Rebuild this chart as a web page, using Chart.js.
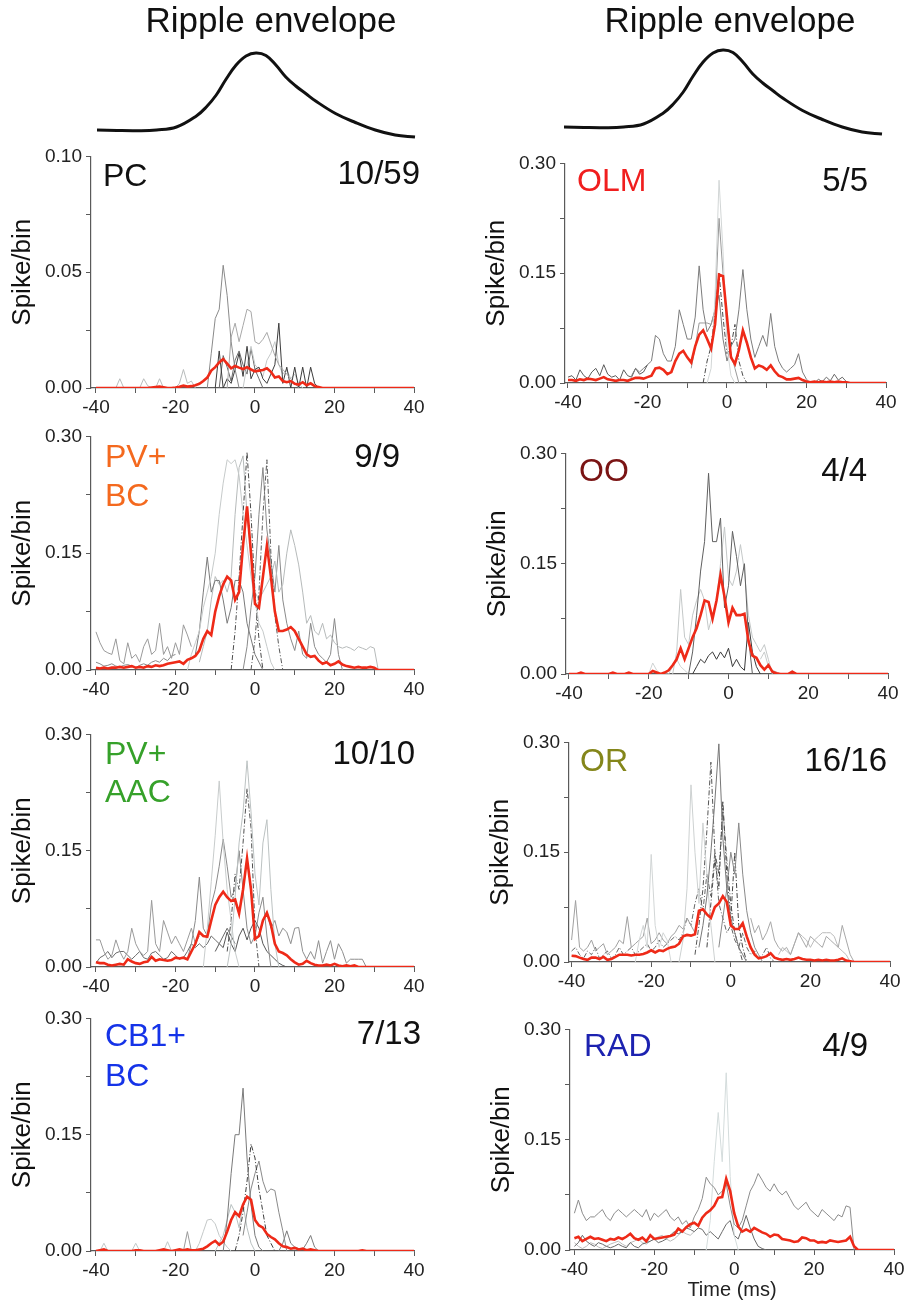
<!DOCTYPE html>
<html>
<head>
<meta charset="utf-8">
<script src="https://cdn.jsdelivr.net/npm/chart.js@4.4.0/dist/chart.umd.min.js"></script>
<style>
  body { margin: 0; background: #fff; width: 904px; height: 1301px; position: relative; overflow: hidden; }
  canvas { position: absolute; }
</style>
</head>
<body>
<script>
// time bins (ms), 1 ms bins
var timeMs = [-40,-39,-38,-37,-36,-35,-34,-33,-32,-31,-30,-29,-28,-27,-26,-25,-24,-23,-22,-21,
  -20,-19,-18,-17,-16,-15,-14,-13,-12,-11,-10,-9,-8,-7,-6,-5,-4,-3,-2,-1,0,
  1,2,3,4,5,6,7,8,9,10,11,12,13,14,15,16,17,18,19,20,21,22,23,24,25,26,27,28,29,30,
  31,32,33,34,35,36,37,38,39,40];

var xTickValues = [-40, -30, -20, -10, 0, 10, 20, 30, 40];
var xTickLabelled = [-40, -20, 0, 20, 40];

// ripple envelope (arbitrary units)
var envTime = [-40,-35,-30,-25,-20,-15,-12.5,-10,-7.5,-5,-2.5,0,2.5,5,7.5,10,12.5,15,20,25,30,35,40];
var envAmp = [10,9.5,9.3,10,13,24,33,45,61,75,84,87,84.5,75,63,54,46.5,39,26.5,17.5,10,5,3];

// ---- PC ----
var pcMean = [0,0,0,0,0,0,0,0,0,0,
  0,0,0,0,0.0002,0.0004,0.0006,0.0003,0,0,
  0.0002,0.0005,0.001,0.0006,0.0008,0.0012,0.0018,0.003,0.0045,0.0075,
  0.009,0.011,0.0125,0.0105,0.0085,0.0095,0.0088,0.0082,0.009,0.008,
  0.0072,
  0.0075,0.0078,0.0085,0.007,0.0045,0.005,0.003,0.0025,0.003,0.0018,
  0.0015,0.0025,0.0012,0.002,0.0008,0.0004,0,0,0,0,
  0,0,0,0,0,0,0,0,0,0,
  0,0,0,0,0,0,0,0,0,0];
var pcStarts = [-12, -7, -10, -35, -3, -9];
var pcTraces = [
  [0,0.015,0.03,0.034,0.053,0.04,0.02,0.008,0],
  [0,0.022,0.028,0.02,0.027,0.034,0.033,0.02,0.019,0.021,0.024,0.019,0.014,0.01,0.008,0.006,0.004,0.002,0],
  [0,0.016,0,0.004,0.002,0.008,0.015,0.005,0.018,0.004,0.008,0.009,0.004,0.002,0.006,0.01,0.028,0.002,0.009,0,0.009,0,0.009,0,0.009,0.002,0],
  [0,0.004,0,0,0,0,0,0.004,0.001,0,0,0.004,0,0,0,0,0.002,0.008,0.002,0.003,0],
  [0,0.01,0.018,0.01,0.008,0.005,0.012,0.015,0.02,0.01,0.006,0.008,0.004,0.006,0.002,0],
  [0,0.014,0.009,0.003,0.012,0.016,0.01,0.006,0.017,0.008,0.004,0]
];

// ---- PV+ BC ----
var pvbcMean = [0.003,0.002,0.003,0.002,0.003,0.003,0.004,0.003,0.004,0.005,
  0.003,0.004,0.003,0.005,0.004,0.006,0.005,0.006,0.008,0.009,
  0.01,0.011,0.008,0.013,0.015,0.018,0.025,0.04,0.05,0.045,
  0.075,0.095,0.11,0.12,0.115,0.09,0.1,0.16,0.21,0.15,
  0.085,
  0.08,0.12,0.16,0.12,0.075,0.05,0.05,0.052,0.055,0.05,
  0.04,0.03,0.02,0.017,0.018,0.012,0.008,0.01,0.006,0.008,
  0.011,0.007,0.005,0.004,0.003,0.004,0.003,0.003,0.004,0.003,
  0,0,0,0,0,0,0,0,0,0];
var pvbcStarts = [-17, -6, -1, -40, -15, -14, -3, -40];
var pvbcTraces = [
  [0,0.02,0.035,0.05,0.08,0.1,0.12,0.15,0.2,0.24,0.27,0.265,0.27,0.25,0.2,0.16,0.12,0.09,0.06,0.05,0.03,0.01,0],
  [0,0.05,0.12,0.2,0.28,0.2,0.1,0.04,0],
  [0,0.04,0.1,0.2,0.27,0.15,0.07,0.03,0],
  [0.049,0.035,0.025,0.022,0.02,0.04,0.012,0.008,0.035,0.015,0.02,0.01,0.03,0.04,0.02,0.025,0.06,0.02,0.03,0.015,0.035,0.02,0.058,0.045,0.03],
  [0.02,0.05,0.1,0.145,0.1,0.115,0.115,0.09,0.06,0.08,0.115,0.115,0.1,0.06,0.04,0.02,0.01,0],
  [0.01,0.03,0.05,0.09,0.12,0.11,0.115,0.1,0.12,0.2,0.26,0.275,0.2,0.15,0.1,0.09,0.1,0.11,
   0.12,0.14,0.1,0.11,0.15,0.18,0.16,0.135,0.1,0.06,0.07,0.05,0.045,0.06,0.04,0.045,0.035,0.03,0.028,0.03,0.028,0.025,0.03,0.028,0.026,0.03,0.028,0],
  [0,0.03,0.08,0.12,0.2,0.26,0.18,0.14,0.1,0.16,0.09,0.06,0.04,0.025,0.05,0.02,0.015,0.06,0.03,0.02,0.015,0.01,0.02,0.066,0.02,0],
  [0.01,0.008,0.005,0.006,0.008,0.005,0.004,0.006,0.007,0.005,0.003,0.006,0.008,0.006,0.01,0.012,0.01,0.015,0.012,0.018,0.02]
];

// ---- PV+ AAC ----
var aacMean = [0.006,0.005,0.005,0.003,0.002,0.003,0.004,0.003,0.01,0.007,
  0.005,0.004,0.006,0.007,0.013,0.008,0.01,0.009,0.008,0.009,
  0.012,0.011,0.012,0.01,0.02,0.03,0.045,0.04,0.039,0.06,
  0.08,0.09,0.097,0.09,0.085,0.087,0.069,0.1,0.14,0.1,
  0.036,
  0.04,0.06,0.07,0.055,0.03,0.02,0.018,0.015,0.01,0.006,
  0.003,0.004,0.008,0.005,0.003,0.002,0.002,0.003,0.002,0.004,
  0.002,0.001,0.002,0.001,0.002,0,0,0,0,0,
  0,0,0,0,0,0,0,0,0,0];
var aacStarts = [-13, -7, -7, -17, -40, -40, 3, -10];
var aacTraces = [
  [0,0.05,0.11,0.17,0.24,0.16,0.1,0.06,0.02,0],
  [0,0.03,0.09,0.16,0.2,0.266,0.2,0.12,0.08,0.16,0.19,0.1,0.03,0],
  [0.02,0.06,0.12,0.1,0.16,0.23,0.18,0.05,0],
  [0.01,0.03,0.06,0.116,0.05,0.04,0.08,0.1,0.13,0.165,0.13,0.09,0.1,0.15,0.1,0.05,0.03,0.04,0.07,0.09,0.04,0],
  [0.035,0.035,0.02,0.01,0.015,0.035,0.02,0.01,0.02,0.05,0.03,0.02,0.015,0.02,0.086,0.03,0.02,0.06,0.045,0.03,0.04,0.03,0.02,0.035,0.05,0.03,0.04],
  [0.005,0.012,0.015,0.02,0.012,0.018,0.02,0.02,0.015,0.01,0.015,0.02,0.012,0.01,0.018,0.02,0.015,0.01,0.012,0.02,
   0.015,0.01,0.012,0.02,0.03,0.025,0.03,0.025,0.03,0.04,0.035,0.03,0.04,0.05,0.04,0.03],
  [0.07,0.05,0.06,0.04,0.05,0.045,0.03,0.05,0.051,0.02,0.01,0.02,0.01,0.034,0.005,0.02,0.034,0.01,0.03,0.02,0.005,0.01,0.01,0.01,0.01,0],
  [0.02,0.03,0.025,0.045,0.03,0.02,0.04,0.05,0.035,0.05,0.06,0.05,0.03,0.02,0.015,0.01,0.005,0.002,0]
];

// ---- CB1+ BC ----
var cb1Mean = [0,0.001,0.002,0,0,0,0,0,0,0,
  0.001,0.001,0,0,0,0,0.001,0.002,0.001,0,
  0.001,0.002,0.001,0.002,0.001,0.001,0.002,0.003,0.006,0.01,
  0.013,0.008,0.012,0.025,0.04,0.05,0.045,0.06,0.07,0.066,
  0.04,
  0.033,0.03,0.022,0.018,0.015,0.01,0.006,0.005,0.003,0.004,
  0.002,0.003,0.001,0.002,0.001,0,0,0,0,0,
  0,0,0,0,0,0,0.001,0,0,0,
  0,0,0,0,0,0,0,0,0,0];
var cb1Starts = [-8, -5, -3, -15, -18, 6, -10, -39];
var cb1Traces = [
  [0,0.04,0.1,0.15,0.15,0.21,0.12,0.06,0.02,0.005,0],
  [0,0.02,0.05,0.09,0.138,0.12,0.08,0.05,0.02,0.01,0],
  [0.02,0.05,0.08,0.1,0.116,0.09,0.075,0.08,0.078,0.05,0.026,0],
  [0,0.01,0.025,0.04,0.041,0.035,0.02,0.012,0.005,0],
  [0,0.025,0],
  [0,0.01,0.026,0.01,0.005,0.003,0.002,0.01,0.02,0.005,0],
  [0,0.01,0.02,0.04,0.06,0.05,0.03,0.06,0.03,0.01,0],
  [0,0.01,0,0,0,0,0,0,0,0.01,0,0,0,0,0,0,0,0.012,0]
];

// ---- OLM ----
var olmMean = [0.004,0.004,0.003,0.005,0.004,0.006,0.005,0.004,0.006,0.008,
  0.005,0.004,0.003,0.004,0.004,0.003,0.005,0.007,0.007,0.006,
  0.008,0.01,0.02,0.021,0.018,0.012,0.015,0.03,0.04,0.044,
  0.035,0.028,0.05,0.066,0.072,0.06,0.047,0.08,0.148,0.146,
  0.09,
  0.035,0.026,0.045,0.072,0.055,0.035,0.02,0.024,0.022,0.018,
  0.024,0.016,0.01,0.008,0.005,0.005,0.006,0.007,0.004,0.002,
  0.001,0.002,0.001,0.002,0.001,0.002,0.001,0.002,0.001,0.001,
  0,0,0,0,0,0,0,0,0,0];
var olmStarts = [-5, -9, -24, -40, 22, -6];
var olmTraces = [
  [0,0.02,0.12,0.277,0.18,0.05,0.01,0],
  [0.02,0.05,0.082,0.082,0.082,0.08,0.1,0.225,0.15,0.08,0.04,0.02,0],
  [0.01,0.02,0.015,0.02,0.025,0.03,0.065,0.06,0.04,0.03,
   0.03,0.05,0.1,0.08,0.06,0.06,0.09,0.16,0.1,0.07,
   0.08,0.1,0.12,0.06,0.03,0.05,0.06,0.1,0.155,0.1,
   0.06,0.035,0.05,0.065,0.05,0.095,0.05,0.03,0.02,0.015,
   0.02,0.025,0.04,0.015,0.005,0],
  [0.008,0.01,0.004,0.018,0.01,0.006,0.015,0.02,0.01,0.025,0.012,0.008,0.01,0.004,0.018,0.01,0.008,0.02,0.012,0.015,0.025],
  [0,0.005,0.002,0.008,0.003,0.012,0.004,0.008,0.002,0],
  [0,0.03,0.05,0.1,0.15,0.09,0.04,0.05,0.08,0.03,0.01,0]
];

// ---- OO ----
var ooMean = [0,0,0,0.002,0,0,0,0,0,0,
  0,0.002,0,0,0,0.002,0,0,0,0,
  0,0.004,0.002,0,0.002,0.005,0.012,0.02,0.035,0.02,
  0.035,0.05,0.062,0.08,0.1,0.098,0.075,0.1,0.135,0.105,
  0.07,
  0.09,0.08,0.08,0.082,0.045,0.025,0.022,0.012,0.006,0.012,
  0.003,0.001,0,0,0,0.003,0,0,0,0,
  0,0,0,0,0,0,0,0,0,0,
  0,0,0,0,0,0,0,0,0,0];
var ooStarts = [-10, -14, -9, -20, 8];
var ooTraces = [
  [0,0.03,0.08,0.14,0.18,0.273,0.18,0.18,0.212,0.09,0.12,0.194,0.16,0.12,0.15,0.05,0],
  [0,0.03,0.115,0.05,0.04,0.08,0.1,0.115,0.1,0.06,0.08,0.1,0.15,0.2,0.13,0.12,0.14,0.176,0.14,0.08,0.05,0.04,0.03,0.04,0.02,0],
  [0,0.01,0.02,0.015,0.025,0.03,0.02,0.03,0.022,0.035,0.01,0.02,0.01,0.005,0.07,0.03,0.01,0],
  [0,0.015,0.005,0,0,0,0.01,0.02,0.01,0.005,0],
  [0.02,0.03,0.01,0.005,0.003,0,0,0,0.005,0]
];

// ---- OR ----
var orMean = [0.0086,0.008,0.006,0.004,0.003,0.006,0.006,0.004,0.007,0.003,
  0.004,0.007,0.01,0.01,0.01,0.009,0.01,0.01,0.011,0.013,
  0.016,0.013,0.016,0.015,0.018,0.02,0.021,0.025,0.035,0.037,
  0.036,0.038,0.07,0.072,0.065,0.06,0.075,0.08,0.09,0.082,
  0.05,
  0.045,0.045,0.053,0.035,0.02,0.01,0.005,0.006,0.008,0.012,
  0.006,0.004,0.003,0.004,0.003,0.004,0.006,0.004,0.003,0.003,
  0.002,0.003,0.002,0.003,0.002,0.002,0.003,0.005,0.002,0.001,
  0,0,0,0,0,0,0,0,0,0];
var orStarts = [-8, -13, -9, -3, -24, -40, -40, 5, 12, -6];
var orTraces = [
  [0.02,0.05,0.09,0.15,0.22,0.298,0.17,0.1,0.06,0.04,0.02,0.01,0],
  [0,0.03,0.1,0.242,0.15,0.08,0.19,0.12,0.05,0],
  [0.01,0.05,0.1,0.18,0.273,0.15,0.12,0.21,0.14,0.08,0.04,0.02,0],
  [0.02,0.06,0.1,0.15,0.12,0.19,0.12,0.07,0.04,0.02,0.01,0],
  [0,0.03,0.05,0.02,0.147,0.05,0.02,0.04,0.03,0],
  [0.03,0.084,0.02,0.015,0.02,0.03,0.015,0.02,0.025,0.01,0.015,0.02,0.03,0.025,0.062,0.02,
   0.025,0.03,0.035,0.06,0.025,0.03,0.04,0.03,0.025,0.035,0.04,0.05,0.045,0.06,0.05,0.04],
  [0.015,0.02,0.01,0.005,0.015,0.01,0.02,0.005,0.01,0.015,
   0.005,0.01,0.02,0.01,0.015,0.02,0.01,0.015,0.02,0.025,
   0.015,0.02,0.03,0.02,0.025,0.03,0.035,0.03,0.04,0.06,
   0.05,0.08,0.1,0.07,0.12,0.09,0.15,0.08,0.06,0.04,
   0.05,0.03,0.02,0.04,0.02,0.01,0.015,0.005,0.01,0.02,
   0.005,0,0],
  [0.06,0.04,0.05,0.03,0.04,0.055,0.03,0.02,0.015,0.02,0.01,0.025,0.04,0.03,0.02,0.035,0.03,0.025,0.02,0.035,0.03,0.025,0.02,0.05,0.03,0.01,0],
  [0.01,0.02,0.015,0.01,0.025,0.04,0.035,0.03,0.02,0.03,0.035,0.04,0.04,0.04,0.035,0.02,0.015,0.01,0],
  [0.02,0.08,0.14,0.1,0.22,0.12,0.06,0.15,0.05,0.02,0]
];

// ---- RAD ----
var radMean = [0.016,0.018,0.012,0.015,0.018,0.015,0.016,0.014,0.012,0.015,
  0.014,0.017,0.015,0.018,0.022,0.016,0.014,0.017,0.012,0.02,
  0.015,0.016,0.017,0.018,0.019,0.021,0.029,0.025,0.031,0.035,
  0.037,0.033,0.044,0.05,0.054,0.06,0.071,0.072,0.097,0.08,
  0.05,
  0.032,0.025,0.028,0.025,0.03,0.027,0.024,0.022,0.018,0.021,
  0.02,0.015,0.014,0.013,0.011,0.012,0.017,0.016,0.013,0.013,
  0.01,0.011,0.01,0.013,0.012,0.011,0.012,0.013,0.018,0.005,
  0,0,0,0,0,0,0,0,0,0];
var radStarts = [-40, -7, -40, -40];
var radTraces = [
  [0.05,0.068,0.05,0.04,0.045,0.045,0.05,0.055,0.045,0.04,
   0.05,0.055,0.05,0.045,0.05,0.055,0.05,0.045,0.055,0.04,
   0.05,0.045,0.05,0.055,0.045,0.04,0.045,0.035,0.04,0.03,
   0.045,0.055,0.07,0.099,0.09,0.085,0.075,0.08,
   0.09,0.06,0.035,0.03,0.04,0.06,0.08,0.09,0.104,0.095,
   0.085,0.08,0.09,0.08,0.075,0.08,0.07,0.06,0.055,0.06,
   0.065,0.055,0.05,0.045,0.055,0.05,0.045,0.04,0.048,0.045,
   0.06,0.058,0],
  [0,0.04,0.12,0.187,0.12,0.241,0.1,0.02,0],
  [0.005,0.01,0.02,0.012,0.008,0.005,0.01,0.008,0.005,0.003,
   0.005,0.008,0.005,0.003,0.01,0.005,0.003,0.008,0.01,0.012,
   0.015,0.01,0.012,0.015,0.02,0.025,0.022,0.025,0.03,0.028,
   0.025,0.03,0.028,0.02,0.025,0.02,0.015,0.025,0.035,0.04,
   0.02,0.015,0.03,0.047,0.03,0.015,0.005,0.002,0],
  [0.01,0.005,0.002,0.005,0.01,0.008,0.004,0.002,0.005,0.008,0.01,0.012,0.008,0.005,0.01,0.012,
   0.015,0.01,0.008,0.012,0.015,0.018,0.02,0.015,0.012,0.015,0.02,0.025,0.022,0.02,0.025]
];

// ---------- drawing ----------
Chart.defaults.font.family = '"Liberation Sans", Arial, Helvetica, sans-serif';
Chart.defaults.color = '#222';

var MEAN_RED = '#ee2a18';
var AXIS_GREY = '#5a5a5a';
var FONT = '"Liberation Sans", Arial, Helvetica, sans-serif';

// free text (labels, counts, titles) placed in page coordinates
var pageText = {
  id: 'pageText',
  afterDraw: function(chart, args, opts) {
    var ctx = chart.ctx;
    (opts.items || []).forEach(function(it) {
      ctx.save();
      ctx.font = it.size + 'px ' + FONT;
      ctx.fillStyle = it.color;
      ctx.textAlign = it.align || 'left';
      ctx.textBaseline = 'middle';
      ctx.fillText(it.text, it.x - opts.ox, it.y - opts.oy);
      ctx.restore();
    });
  }
};

function makeCanvas(left, top, width, height) {
  var c = document.createElement('canvas');
  c.width = width;
  c.height = height;
  c.style.left = left + 'px';
  c.style.top = top + 'px';
  document.body.appendChild(c);
  return c;
}

function drawEnvelope(e) {
  var canvas = makeCanvas(e.box[0], e.box[1], e.box[2], e.box[3]);
  new Chart(canvas, {
    type: 'line',
    data: {
      datasets: [{
        data: envTime.map(function(t, i) { return { x: t, y: envAmp[i] }; }),
        borderColor: '#111',
        borderWidth: 3,
        pointRadius: 0,
        tension: 0.4,
        clip: false
      }]
    },
    options: {
      responsive: false,
      animation: false,
      layout: { padding: e.pad },
      scales: {
        x: { type: 'linear', min: -40, max: 40, display: false },
        y: { min: 0, max: 90, display: false }
      },
      plugins: {
        legend: { display: false },
        tooltip: { enabled: false },
        pageText: {
          ox: e.box[0], oy: e.box[1],
          items: [{ text: 'Ripple envelope', x: e.titleX, y: 22, size: 35, color: '#111', align: 'center' }]
        }
      }
    },
    plugins: [pageText]
  });
}

function drawPanel(p) {
  var YW = 91, PT = 14, PR = 18;
  var XH = p.xTitle ? 54 : 40;
  var a = p.area; // [left, right, top, bottom] of the plot area on the page
  var left = a[0] - YW, top = a[2] - PT;
  var width = a[1] + PR - left, height = a[3] - a[2] + PT + XH;
  var canvas = makeCanvas(left, top, width, height);

  var datasets = [{
    data: p.mean.map(function(v, i) { return { x: timeMs[i], y: v }; }),
    borderColor: MEAN_RED,
    borderWidth: 2.6,
    order: 0
  }];
  p.traces.forEach(function(tr, k) {
    datasets.push({
      data: tr.map(function(v, i) { return { x: p.starts[k] + i, y: v }; }),
      borderColor: p.shades[k],
      borderWidth: 1,
      borderDash: (p.dashed || []).indexOf(k) >= 0 ? [5, 2, 1, 2] : [],
      order: k + 1
    });
  });

  var yTicks = p.yMax === 0.1 ? [0, 0.025, 0.05, 0.075, 0.1] : [0, 0.075, 0.15, 0.225, 0.3];
  var yLabelled = p.yMax === 0.1 ? [0, 0.05, 0.1] : [0, 0.15, 0.3];

  var items = [];
  p.name.forEach(function(line, i) {
    items.push({ text: line, x: p.nameX, y: p.nameY[i], size: 32, color: p.color });
  });
  items.push({ text: p.count, x: p.countX, y: p.countY, size: 33, color: '#111', align: 'right' });

  new Chart(canvas, {
    type: 'line',
    data: { datasets: datasets },
    options: {
      responsive: false,
      animation: false,
      layout: { padding: { top: PT, right: PR, left: 0, bottom: 0 } },
      elements: { point: { radius: 0 }, line: { tension: 0 } },
      scales: {
        x: {
          type: 'linear', min: p.xMin, max: 40,
          afterBuildTicks: function(s) { s.ticks = xTickValues.map(function(v) { return { value: v }; }); },
          afterFit: function(s) { s.height = XH; },
          grid: { drawOnChartArea: false, drawTicks: true, tickLength: 5, color: AXIS_GREY },
          border: { display: true, color: AXIS_GREY, width: 1.2 },
          ticks: {
            autoSkip: false, maxRotation: 0, padding: 3, color: '#222', font: { size: 19 },
            callback: function(v) { return xTickLabelled.indexOf(v) >= 0 ? String(v) : ''; }
          },
          title: {
            display: !!p.xTitle, text: 'Time (ms)', color: '#222',
            font: { size: 20 }, padding: { top: 0, bottom: 2 }
          }
        },
        y: {
          min: 0, max: p.yMax,
          afterBuildTicks: function(s) { s.ticks = yTicks.map(function(v) { return { value: v }; }); },
          afterFit: function(s) { s.width = YW; },
          grid: { drawOnChartArea: false, drawTicks: true, tickLength: 5, color: AXIS_GREY },
          border: { display: true, color: AXIS_GREY, width: 1.2 },
          ticks: {
            autoSkip: false, padding: 4, color: '#222', font: { size: 19 },
            callback: function(v) { return yLabelled.indexOf(v) >= 0 ? v.toFixed(2) : ''; }
          },
          title: {
            display: true, text: 'Spike/bin', color: '#111',
            font: { size: 26 }, padding: { top: 7, bottom: 0 }
          }
        }
      },
      plugins: {
        legend: { display: false },
        tooltip: { enabled: false },
        pageText: { ox: left, oy: top, items: items }
      }
    },
    plugins: [pageText]
  });
}

drawEnvelope({ box: [60, 0, 380, 150], pad: { left: 37, right: 25, top: 50, bottom: 10 }, titleX: 271 });
drawEnvelope({ box: [530, 0, 374, 150], pad: { left: 34, right: 22, top: 47, bottom: 13 }, titleX: 730 });

var panels = [
  { name: ['PC'], color: '#111', count: '10/59', yMax: 0.1, xMin: -41.25, area: [91, 414, 155, 388],
    nameX: 103, nameY: [177], countX: 420, countY: 175,
    mean: pcMean, traces: pcTraces, starts: pcStarts,
    shades: ['#8a8a8a', '#a8a8a8', '#3c3c3c', '#b8bcbc', '#c4c8c8', '#6a6a6a'] },
  { name: ['PV+', 'BC'], color: '#f4691e', count: '9/9', yMax: 0.3, xMin: -41.25, area: [91, 414, 435, 670],
    nameX: 105, nameY: [458, 497], countX: 400, countY: 458,
    mean: pvbcMean, traces: pvbcTraces, starts: pvbcStarts, dashed: [1, 2],
    shades: ['#c6caca', '#4a4a4a', '#5a5a5a', '#9a9a9a', '#7a7a7a', '#b6baba', '#8a8a8a', '#8a8a8a'] },
  { name: ['PV+', 'AAC'], color: '#36a12a', count: '10/10', yMax: 0.3, xMin: -41.25, area: [91, 414, 733, 967],
    nameX: 105, nameY: [755, 793], countX: 415, countY: 755,
    mean: aacMean, traces: aacTraces, starts: aacStarts, dashed: [2],
    shades: ['#c8cccc', '#bcc2c2', '#4e4e4e', '#8a8a8a', '#9a9a9a', '#6a6a6a', '#8e8e8e', '#555555'] },
  { name: ['CB1+', 'BC'], color: '#1533e8', count: '7/13', yMax: 0.3, xMin: -41.25, area: [91, 414, 1017, 1251],
    nameX: 105, nameY: [1037, 1077], countX: 421, countY: 1035,
    mean: cb1Mean, traces: cb1Traces, starts: cb1Starts, dashed: [1],
    shades: ['#7a7a7a', '#3e3e3e', '#8a8a8a', '#c4c8c8', '#9a9a9a', '#7a7a7a', '#b8c0c0', '#c0c8c8'] },
  { name: ['OLM'], color: '#f01e1e', count: '5/5', yMax: 0.3, xMin: -40.75, area: [565, 886, 162, 383],
    nameX: 577, nameY: [182], countX: 868, countY: 182,
    mean: olmMean, traces: olmTraces, starts: olmStarts, dashed: [5],
    shades: ['#d2d6d6', '#9a9a9a', '#7c7c7c', '#5a5a5a', '#6a6a6a', '#4a4a4a'] },
  { name: ['OO'], color: '#7a1414', count: '4/4', yMax: 0.3, xMin: -40.75, area: [566, 888, 452, 674],
    nameX: 579, nameY: [472], countX: 867, countY: 472,
    mean: ooMean, traces: ooTraces, starts: ooStarts,
    shades: ['#606060', '#c4c8c8', '#3a3a3a', '#cfd3d3', '#c8cccc'] },
  { name: ['OR'], color: '#84861a', count: '16/16', yMax: 0.3, xMin: -40.65, area: [569, 890, 741, 962],
    nameX: 580, nameY: [762], countX: 887, countY: 762,
    mean: orMean, traces: orTraces, starts: orStarts, dashed: [2, 6, 9],
    shades: ['#777777', '#cdd1d1', '#555555', '#8a8a8a', '#d2d6d6', '#a0a0a0', '#666666', '#a8a8a8', '#bcbcbc', '#444444'] },
  { name: ['RAD'], color: '#1c22b0', count: '4/9', yMax: 0.3, xMin: -41.1, area: [570, 894, 1028, 1250],
    nameX: 584, nameY: [1047], countX: 868, countY: 1047, xTitle: true,
    mean: radMean, traces: radTraces, starts: radStarts,
    shades: ['#8c8c8c', '#d4dcdc', '#6a6a6a', '#bcbcbc'] }
];

panels.forEach(drawPanel);
</script>
</body>
</html>
